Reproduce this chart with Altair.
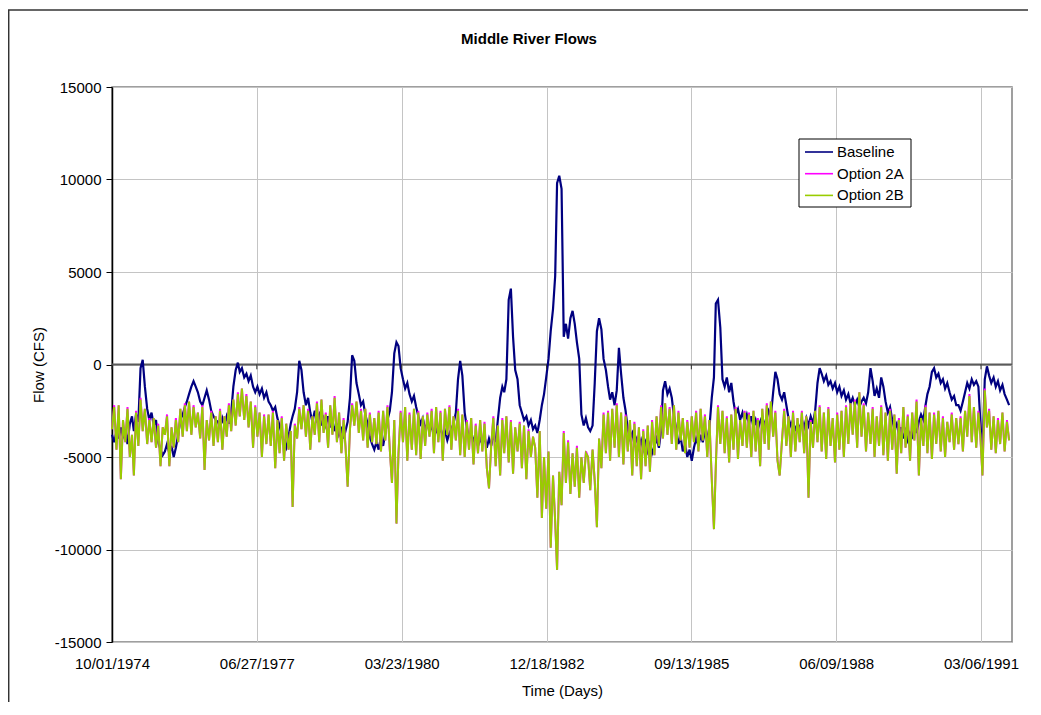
import datetime as dt
import altair as alt
import pandas as pd

SERIES = ["Baseline", "Option 2A", "Option 2B"]
COLORS = ["#000080", "#FF00FF", "#99CC00"]
Y_TICKS = [-15000, -10000, -5000, 0, 5000, 10000, 15000]
X_TICK_DAYS = [0, 1000, 2000, 3000, 4000, 5000, 6000]
X_TICK_LABELS = ["10/01/1974", "06/27/1977", "03/23/1980", "12/18/1982",
                 "09/13/1985", "06/09/1988", "03/06/1991"]
WATER_YEARS = list(range(1975, 1992))
MONTHS = [10, 11, 12, 1, 2, 3, 4, 5, 6, 7, 8, 9]
MONTH_DAYS = [1, 16]

# semi-monthly values, one row per water year (Oct..Sep)
BASELINE = [
    -3800, -4200, -3600, -4000, -3400, -3900, -3500, -4300, -3200, -2800, -3600, -2700, -3100, -200, 250, -1200, -2400, -3000, -2600, -3300, -3000, -4200, -4600, -4900,
    -4700, -4300, -4800, -4400, -5000, -4500, -3800, -3000, -2700, -2300, -2000, -1600, -1200, -900, -1200, -1500, -2000, -2200, -1800, -1400, -1900, -2500, -2800, -3000,
    -3100, -3400, -2900, -3300, -2800, -3200, -2600, -1200, -300, 100, -400, -200, -700, -500, -900, -600, -1200, -1500, -1200, -1600, -1300, -1800, -1500, -2000,
    -2200, -2500, -2300, -2900, -3300, -3800, -4200, -4500, -3900, -3200, -2800, -2400, -1500, 200, -300, -1500, -2200, -1800, -2600, -3100, -2500, -3000, -2700, -3300,
    -2900, -3300, -2800, -3400, -3000, -3600, -3200, -3800, -3500, -4000, -3600, -3100, -1800, 500, 200, -1000, -1600, -2200, -2000, -2700, -3200, -3900, -4300, -4600,
    -4200, -4600, -3900, -4400, -3700, -3000, -2500, -1500, 600, 1200, 1000, -200, -800, -1300, -1000, -1600, -2000, -1700, -2300, -2800, -3200, -2900, -3500, -3200,
    -3600, -3300, -3900, -3500, -3800, -3400, -3900, -3600, -4100, -3700, -3500, -3200, -2600, -800, 200, -600, -2600, -3400, -4000, -3600, -4200, -3800, -4400, -4000,
    -4300, -3900, -4500, -4000, -4400, -3800, -4200, -3000, -1800, -1200, -1500, -800, 3500, 4100, 1500, -300, -800, -2200, -2600, -3000, -2800, -3300, -3000, -3500,
    -3300, -3700, -3000, -2200, -1600, -700, 300, 1800, 3000, 4800, 9800, 10200, 9500, 1500, 2200, 1400, 2500, 2900, 2200, 1200, 300, -2700, -3300, -2900,
    -3400, -3600, -3300, -1000, 1800, 2500, 1900, 300, -300, -1200, -1900, -1500, -2200, -1400, 900, -500, -1800, -2500, -3500, -4000, -3700, -4300, -4000, -4500,
    -4100, -4600, -4200, -4700, -4300, -4800, -4400, -4000, -4500, -3600, -1400, -900, -1600, -1300, -1800, -2800, -3500, -4300, -3900, -4700, -4300, -5000, -4600, -5200,
    -4500, -4000, -4400, -3800, -4200, -3600, -4000, -3400, -1800, -700, 3300, 3500, 2000, -800, -1200, -700, -1500, -1000, -2000, -2700, -2400, -3000, -2600, -3100,
    -2700, -3200, -2800, -3400, -3000, -3500, -3100, -2800, -3300, -2900, -2500, -2800, -1500, -400, -800, -1600, -1900, -1500, -2200, -2900, -3300, -3000, -3600, -3200,
    -3500, -3000, -3400, -2900, -3300, -2800, -3200, -2500, -1000, -200, -500, -900, -600, -1100, -900, -1300, -1000, -1500, -1200, -1700, -1400, -1900, -1600, -2100,
    -1800, -2200, -1900, -2300, -2000, -1800, -2100, -1500, -200, -900, -1700, -1300, -1800, -700, -1200, -2000, -2600, -2300, -3000, -3500, -3200, -3800, -3400, -4000,
    -3600, -4100, -3700, -3900, -3300, -3700, -3100, -2700, -3000, -2200, -1600, -1200, -400, -200, -700, -500, -1000, -800, -1300, -1000, -1500, -1900, -1700, -2200,
    -2200, -2500, -2000, -1500, -1000, -1300, -800, -1100, -900, -1200, -3000, -4800, -800, -100, -600, -1000, -700, -1200, -900, -1400, -1100, -1600, -1900, -2200,
]

OPTION_2A = [
    -3500, -2200, -4600, -2200, -6200, -3000, -4200, -2300, -5000, -3800, -6000, -2500, -4400, -1800, -3600, -2400, -4300, -2900, -4200, -2900, -4500, -3200, -5500, -3400,
    -3800, -2700, -5500, -3400, -4500, -2900, -4200, -2400, -3900, -2100, -3600, -2000, -3800, -2200, -3400, -2600, -4000, -2200, -5700, -3000, -4100, -2500, -4400, -2800,
    -4200, -2400, -4600, -2800, -3900, -2100, -3600, -1900, -3300, -1500, -2800, -1300, -3000, -1600, -3400, -2000, -4500, -2200, -3900, -2600, -5000, -2700, -4300, -2700,
    -4400, -2500, -5600, -3000, -4800, -2800, -5200, -3200, -4600, -3600, -7700, -3200, -4000, -2300, -3500, -2200, -3900, -2400, -4600, -2800, -3800, -2000, -4200, -1900,
    -3700, -2600, -4500, -2200, -3800, -1700, -4200, -2600, -4800, -2900, -4400, -6600, -3500, -2100, -3300, -2000, -3700, -2400, -4100, -2400, -4500, -2600, -4200, -2900,
    -4300, -2500, -4700, -2500, -4100, -2200, -4600, -6400, -3000, -8600, -4800, -2500, -4200, -2300, -5200, -2600, -4600, -2400, -4900, -2500, -5100, -2800, -4400, -2600,
    -3900, -2400, -4800, -2300, -4200, -2500, -5200, -2400, -3800, -2200, -4600, -2800, -4100, -2400, -4900, -2700, -5000, -3000, -4600, -2900, -5400, -3200, -4800, -3000,
    -4700, -3100, -5600, -6700, -4400, -2800, -5500, -3300, -6000, -2900, -4800, -2800, -5300, -3000, -5900, -3400, -4700, -3100, -5600, -3300, -6200, -3500, -5000, -3900,
    -4500, -7200, -3600, -8300, -5000, -7800, -4700, -9900, -6000, -8500, -11100, -5800, -7600, -3600, -6400, -4100, -7000, -4800, -6600, -4400, -7200, -5000, -6400, -4700,
    -5000, -6800, -4600, -6300, -8800, -4000, -5600, -2600, -4800, -2500, -5200, -2400, -4500, -2100, -5000, -2600, -5400, -2700, -4700, -3000, -6000, -3100, -5500, -3400,
    -6200, -3500, -5500, -3300, -5800, -3000, -4900, -2800, -4400, -2200, -4000, -2100, -3800, -2300, -4300, -2200, -4600, -2500, -4100, -2900, -4800, -3000, -4500, -2800,
    -4200, -2500, -4700, -2400, -4100, -2700, -5000, -3000, -6200, -8900, -5500, -2200, -4300, -2500, -4800, -2800, -5300, -2700, -4600, -2300, -5100, -3000, -4400, -2500,
    -4500, -2600, -5000, -2500, -4700, -2900, -5500, -2400, -4300, -2100, -4600, -2000, -3900, -2500, -5200, -6000, -4100, -2400, -4400, -2800, -5000, -2500, -4700, -2900,
    -4200, -2500, -4800, -2800, -7200, -3000, -4500, -2500, -4200, -2200, -4700, -2600, -5100, -2300, -4400, -2900, -5300, -2600, -4600, -2500, -5000, -2200, -4300, -2100,
    -3800, -1900, -4500, -1500, -3900, -2100, -4700, -2600, -4300, -2300, -5000, -2800, -4400, -2200, -4900, -2600, -5200, -2400, -4600, -2700, -5900, -2900, -4800, -2300,
    -4500, -2700, -5200, -2600, -4100, -1900, -6000, -2900, -4400, -2200, -4800, -2600, -5100, -2600, -4300, -2500, -4700, -2800, -5000, -3100, -4200, -2600, -4600, -2900,
    -4300, -2800, -4700, -2500, -3900, -1600, -4200, -2300, -4500, -2500, -3800, -6000, -1300, -3400, -2400, -4600, -2800, -4800, -2900, -4300, -2600, -4700, -3000, -4100,
]

OPTION_2B = [
    -3500, -2300, -4600, -2200, -6200, -3000, -4200, -2400, -5000, -3800, -6000, -2600, -4400, -1900, -3600, -2400, -4300, -3000, -4200, -2900, -4500, -3300, -5500, -3400,
    -3800, -2800, -5500, -3400, -4500, -3000, -4200, -2400, -3900, -2200, -3600, -2000, -3800, -2300, -3400, -2600, -4000, -2300, -5700, -3000, -4100, -2600, -4400, -2800,
    -4200, -2500, -4600, -2800, -3900, -2200, -3600, -1900, -3300, -1600, -2800, -1300, -3000, -1700, -3400, -2000, -4500, -2300, -3900, -2600, -5000, -2800, -4300, -2700,
    -4400, -2600, -5600, -3000, -4800, -2900, -5200, -3200, -4600, -3600, -7700, -3300, -4000, -2400, -3500, -2200, -3900, -2500, -4600, -2800, -3800, -2100, -4200, -1900,
    -3700, -2700, -4500, -2200, -3800, -1800, -4200, -2600, -4800, -3000, -4400, -6600, -3500, -2200, -3300, -2000, -3700, -2500, -4100, -2400, -4500, -2700, -4200, -2900,
    -4300, -2600, -4700, -2500, -4100, -2300, -4600, -6400, -3000, -8600, -4800, -2600, -4200, -2300, -5200, -2700, -4600, -2400, -4900, -2600, -5100, -2800, -4400, -2700,
    -3900, -2500, -4800, -2300, -4200, -2600, -5200, -2400, -3800, -2300, -4600, -2800, -4100, -2500, -4900, -2700, -5000, -3100, -4600, -2900, -5400, -3300, -4800, -3000,
    -4700, -3200, -5600, -6700, -4400, -2900, -5500, -3300, -6000, -3000, -4800, -2800, -5300, -3100, -5900, -3400, -4700, -3200, -5600, -3300, -6200, -3600, -5000, -3900,
    -4500, -7200, -3600, -8300, -5000, -7800, -4700, -9900, -6000, -8500, -11100, -5800, -7600, -3700, -6400, -4200, -7000, -4800, -6600, -4500, -7200, -5000, -6400, -4800,
    -5000, -6800, -4600, -6300, -8800, -4000, -5600, -2700, -4800, -2600, -5200, -2400, -4500, -2200, -5000, -2600, -5400, -2800, -4700, -3000, -6000, -3200, -5500, -3400,
    -6200, -3600, -5500, -3300, -5800, -3100, -4900, -2800, -4400, -2300, -4000, -2100, -3800, -2400, -4300, -2200, -4600, -2600, -4100, -2900, -4800, -3100, -4500, -2800,
    -4200, -2600, -4700, -2400, -4100, -2800, -5000, -3000, -6200, -8900, -5500, -2300, -4300, -2500, -4800, -2900, -5300, -2700, -4600, -2400, -5100, -3000, -4400, -2600,
    -4500, -2700, -5000, -2500, -4700, -3000, -5500, -2400, -4300, -2200, -4600, -2000, -3900, -2600, -5200, -6000, -4100, -2500, -4400, -2800, -5000, -2600, -4700, -2900,
    -4200, -2600, -4800, -2800, -7200, -3100, -4500, -2500, -4200, -2300, -4700, -2600, -5100, -2400, -4400, -2900, -5300, -2700, -4600, -2500, -5000, -2300, -4300, -2100,
    -3800, -2000, -4500, -1500, -3900, -2200, -4700, -2600, -4300, -2400, -5000, -2800, -4400, -2300, -4900, -2600, -5200, -2500, -4600, -2700, -5900, -3000, -4800, -2300,
    -4500, -2800, -5200, -2600, -4100, -2000, -6000, -2900, -4400, -2300, -4800, -2600, -5100, -2700, -4300, -2500, -4700, -2900, -5000, -3100, -4200, -2700, -4600, -2900,
    -4300, -2900, -4700, -2500, -3900, -1700, -4200, -2300, -4500, -2600, -3800, -6000, -1400, -3400, -2500, -4600, -2800, -4800, -3000, -4300, -2600, -4700, -3100, -4100,
]

FONT = "Liberation Sans"

# ---- build table -------------------------------------------------------
start = dt.date(1974, 10, 1)
days = []
for wy in WATER_YEARS:
    for m in MONTHS:
        for d in MONTH_DAYS:
            yr = wy - 1 if m >= 10 else wy
            days.append((dt.date(yr, m, d) - start).days)

frames = []
for name, vals in zip(SERIES, [BASELINE, OPTION_2A, OPTION_2B]):
    frames.append(pd.DataFrame({"day": days, "flow": vals, "series": name}))
df = pd.concat(frames, ignore_index=True)

x_label_expr = " : ".join(
    f"datum.value == {d} ? '{l}'" for d, l in zip(X_TICK_DAYS, X_TICK_LABELS)
) + " : ''"

x_scale = alt.Scale(domain=[0, 6214], nice=False, zero=False)
y_scale = alt.Scale(domain=[-15000, 15000], nice=False)

x_axis = alt.Axis(
    values=X_TICK_DAYS, labelExpr=x_label_expr, title="Time (Days)",
    grid=True, gridColor="#c4c4c4", gridWidth=1, ticks=False, tickSize=0,
    domain=False, labelPadding=21, labelBaseline="middle", labelFontSize=15,
    labelFlush=False, labelOverlap=False, titleFontSize=15,
    titleFontWeight="normal", titleY=48, titleBaseline="middle",
)
y_axis = alt.Axis(
    values=Y_TICKS, labelExpr="'' + datum.value", title="Flow (CFS)",
    grid=True, gridColor="#c4c4c4", gridWidth=1, domainColor="black",
    domainWidth=1.5, tickColor="black", tickSize=6, labelPadding=5,
    labelFontSize=15, titleFontSize=15, titleFontWeight="normal",
    titleX=-74, titleY=277.5, titleAngle=-90, titleBaseline="middle",
    titleAlign="center", labelOverlap=False,
)
x_enc = alt.X("day:Q", scale=x_scale, axis=x_axis)
y_enc = alt.Y("flow:Q", scale=y_scale, axis=y_axis)

# zero line (category axis crossing) and its tick marks
zero_df = pd.DataFrame({"day": [0], "flow": [0]})
zero_line = alt.Chart(zero_df).mark_rule(color="#5a5a5a", strokeWidth=2).encode(
    y=y_enc)
tick_df = pd.DataFrame({"day": X_TICK_DAYS, "flow": [0] * len(X_TICK_DAYS),
                        "flow_end": [-260] * len(X_TICK_DAYS)})
zero_ticks = alt.Chart(tick_df).mark_rule(color="#303030", strokeWidth=1).encode(
    x=x_enc, y=y_enc, y2="flow_end:Q")

line_layers = []
for name, color, width in zip(SERIES, COLORS, [2.2, 2.0, 2.0]):
    sub = df[df["series"] == name]
    line_layers.append(
        alt.Chart(sub).mark_line(color=color, strokeWidth=width).encode(
            x=x_enc, y=y_enc, order="day:Q"))

dummy = pd.DataFrame({"a": [0]})

# custom legend
legend_box = alt.Chart(dummy).mark_rect(fill="white", stroke="black", strokeWidth=1).encode(
    x=alt.value(687), x2=alt.value(799), y=alt.value(52), y2=alt.value(120))
legend_layers = [legend_box]
for i, (name, color) in enumerate(zip(SERIES, COLORS)):
    yy = 65 + i * 21.7
    legend_layers.append(
        alt.Chart(dummy).mark_rule(color=color, strokeWidth=1.6).encode(
            x=alt.value(693), x2=alt.value(721), y=alt.value(yy)))
    legend_layers.append(
        alt.Chart(dummy).mark_text(text=name, align="left", baseline="middle",
                                   fontSize=15, font=FONT, color="black").encode(
            x=alt.value(725), y=alt.value(yy)))

title = alt.Chart(dummy).mark_text(
    text="Middle River Flows", fontSize=15, fontWeight="bold", font=FONT,
    align="center", baseline="middle", color="black").encode(
    x=alt.value(417), y=alt.value(-48))

# chart-area border (top and left edges)
border_top = alt.Chart(dummy).mark_rule(color="#333333", strokeWidth=1.5).encode(
    x=alt.value(-104), x2=alt.value(930), y=alt.value(-77))
border_left = alt.Chart(dummy).mark_rule(color="#333333", strokeWidth=1.5).encode(
    x=alt.value(-103.3), y=alt.value(-77), y2=alt.value(640))

chart = alt.layer(
    zero_line, *line_layers, zero_ticks, *legend_layers, title, border_top, border_left
).properties(
    width=900, height=555,
    autosize=alt.AutoSizeParams(type="none"),
    padding={"left": 104, "top": 79, "right": 16, "bottom": 60},
).configure(
    font=FONT, background="white"
).configure_view(
    stroke="#808080", strokeWidth=1.5
).configure_axis(
    labelColor="black", titleColor="black", labelFont=FONT, titleFont=FONT
)

chart.save("out.html", embed_options={"renderer": "svg", "actions": False})
